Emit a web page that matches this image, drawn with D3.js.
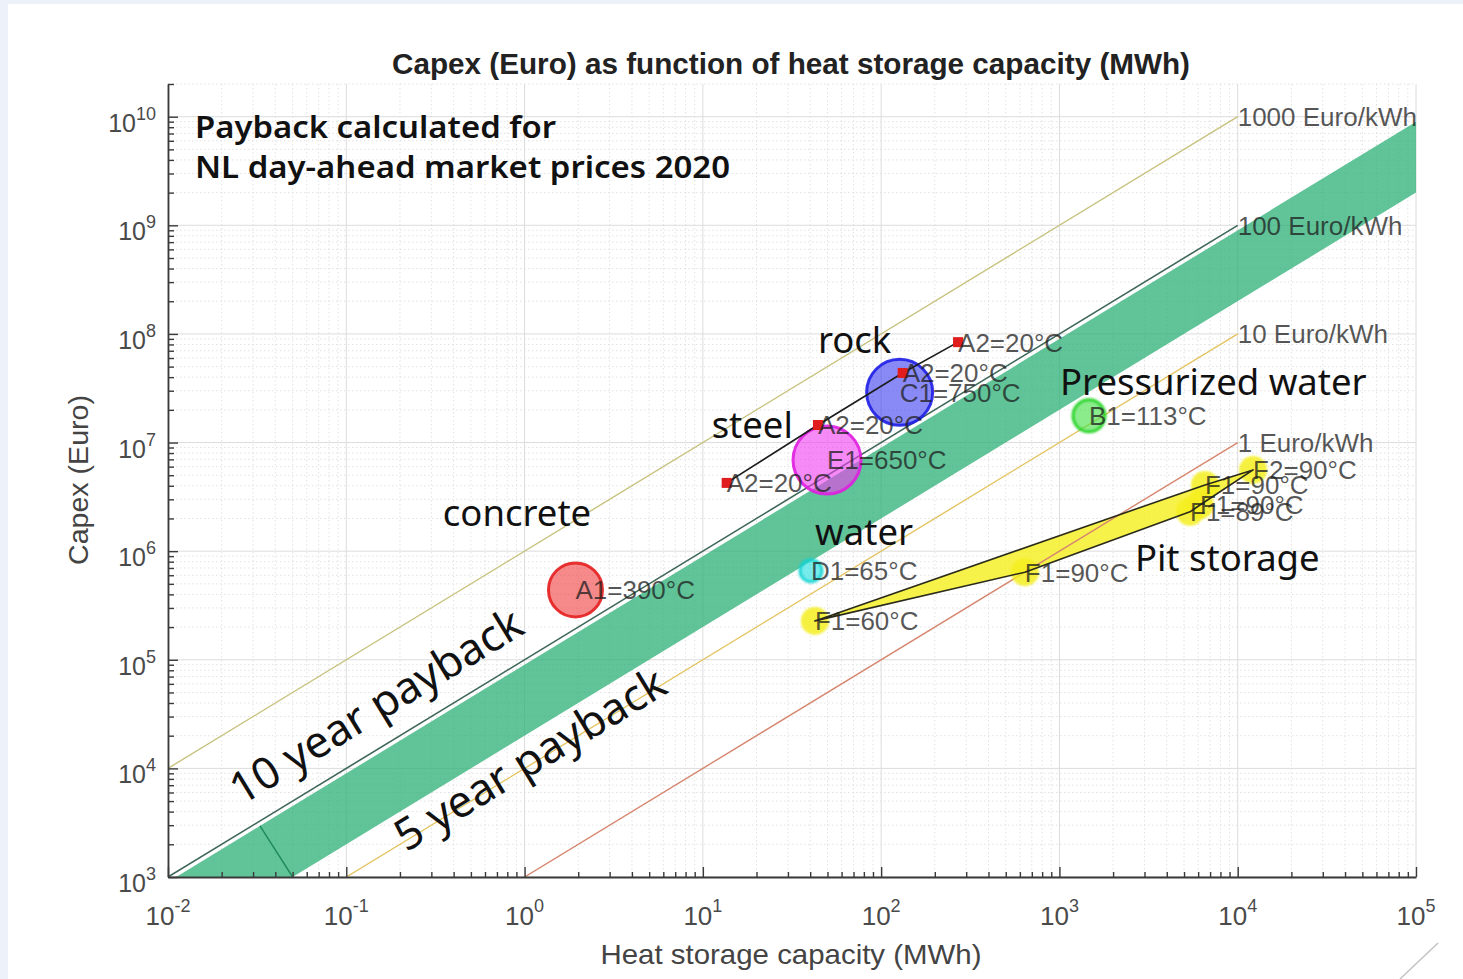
<!DOCTYPE html>
<html>
<head>
<meta charset="utf-8">
<script src="https://cdn.jsdelivr.net/npm/d3@7"></script>
<style>
  body { margin: 0; background: #edf1fa; }
  svg { display: block; }
</style>
</head>
<body>
<svg id="chart" width="1463" height="979"></svg>
<script>
// ---- axis decades -------------------------------------------------------
const xTickExps = [-2, -1, 0, 1, 2, 3, 4, 5];      // heat storage capacity, MWh
const yTickExps = [3, 4, 5, 6, 7, 8, 9, 10];       // capex, Euro

// ---- reference cost lines (Euro per kWh of capacity) ----------------------
const priceLevels = [1000, 100, 10, 1];
const priceLabels = ["1000 Euro/kWh", "100 Euro/kWh", "10 Euro/kWh", "1 Euro/kWh"];
const priceLineEnd = 1e4;                          // MWh where the lines stop

// ---- payback band (Euro per kWh) -----------------------------------------
const paybackUpper = 90;    // 10 year payback
const paybackLower = 20;    // 5 year payback
const bandSeamCapacity = 0.0328;

// ---- storage technologies -------------------------------------------------
const techKeys = ["A1", "C1", "E1", "B1", "D1"];
const techLabels = ["A1=390°C", "C1=750°C", "E1=650°C", "B1=113°C", "D1=65°C"];
const techCapacity = [1.93, 127, 49.7, 1465, 40.4];
const techCapex = [4.4e5, 2.9e7, 6.9e6, 1.76e7, 6.6e5];

// ---- ambient (20°C) reference points ---------------------------------------
const ambLabels = ["A2=20°C", "A2=20°C", "A2=20°C", "A2=20°C"];
const ambCapacity = [13.6, 44.2, 132, 270];
const ambCapex = [4.25e6, 1.45e7, 4.37e7, 8.4e7];

// ---- pit storage, listed in outline order ---------------------------------
const pitLabels = ["F1=60°C", "F1=90°C", "F1=89°C", "F1=90°C", "F2=90°C", "F1=90°C"];
const pitCapacity = [42.5, 640, 5400, 6140, 12200, 6550];
const pitCapex = [2.28e5, 6.4e5, 2.3e6, 2.66e6, 5.6e6, 4.07e6];

// ---- annotations -----------------------------------------------------------
const noteTexts = ["rock", "steel", "concrete", "water", "Pressurized water", "Pit storage"];
const noteCapacity = [44.2, 11.2, 0.348, 42.6, 1007, 2650];
const noteCapex = [6.68e7, 1.1e7, 1.71e6, 1.14e6, 2.74e7, 6.58e5];

const headerLines = ["Payback calculated for", "NL day-ahead market prices 2020"];
const headerCapacity = 0.01417;
const headerCapex = [6.38e9, 2.73e9];

const paybackTexts = ["10 year payback", "5 year payback"];
const paybackCapacity = [0.1467, 1.072];
const paybackCapex = [3.75e4, 1.22e4];

// ---- styling ----------------------------------------------------------------
const techStyle = {
  A1: { fill: "#f03c3c", stroke: "#e41e1e", r: 27, soft: false },
  C1: { fill: "#3c3cf0", stroke: "#1e1ee6", r: 33, soft: false },
  E1: { fill: "#f03cf0", stroke: "#e01ee0", r: 34, soft: false },
  B1: { fill: "#3ce03c", stroke: "#18d018", r: 16, soft: true },
  D1: { fill: "#22e0e0", stroke: "#12d2d2", r: 11, soft: true }
};
const priceColors = ["#c8c27e", "#3f6759", "#e4c463", "#d6866f"];
const headerWidths = [361, 535];
const labelFont = "'Liberation Sans', Arial, sans-serif";
const noteFont = "'Noto Sans', 'Open Sans', sans-serif";

// ---- layout -----------------------------------------------------------------
const plot = { left: 168, right: 1416, top: 84, bottom: 877 };

const x = d3.scaleLog().domain([1e-2, 1e5]).range([plot.left, plot.right]);
const y = d3.scaleLog().domain([1e3, 2e10]).range([plot.bottom, plot.top]);

const svg = d3.select("#chart");

svg.append("rect").attr("x", 8).attr("y", 4).attr("width", 1463 - 8).attr("height", 979 - 4)
  .attr("fill", "#ffffff");

const defs = svg.append("defs");
defs.append("filter").attr("id", "soft").attr("x", "-30%").attr("y", "-30%")
  .attr("width", "160%").attr("height", "160%")
  .append("feGaussianBlur").attr("stdDeviation", 1.3);
defs.append("clipPath").attr("id", "plotClip").append("rect")
  .attr("x", plot.left).attr("y", plot.top)
  .attr("width", plot.right - plot.left).attr("height", plot.bottom - plot.top);

// ---- grid -------------------------------------------------------------------
const xMajor = xTickExps.map(e => Math.pow(10, e));
const yMajor = yTickExps.map(e => Math.pow(10, e));
const xMinor = [];
xTickExps.slice(0, -1).forEach(e => { for (let m = 2; m <= 9; m++) xMinor.push(m * Math.pow(10, e)); });
const yMinor = [];
yTickExps.forEach(e => { for (let m = 2; m <= 9; m++) { const v = m * Math.pow(10, e); if (v <= 2e10) yMinor.push(v); } });

const grid = svg.append("g");
grid.selectAll("line.xmin").data(xMinor).join("line")
  .attr("x1", d => x(d)).attr("x2", d => x(d)).attr("y1", plot.top).attr("y2", plot.bottom)
  .attr("stroke", "#e2e2e2").attr("stroke-dasharray", "1.5,2.5");
grid.selectAll("line.ymin").data(yMinor).join("line")
  .attr("y1", d => y(d)).attr("y2", d => y(d)).attr("x1", plot.left).attr("x2", plot.right)
  .attr("stroke", "#e2e2e2").attr("stroke-dasharray", "1.5,2.5");
grid.selectAll("line.xmaj").data(xMajor).join("line")
  .attr("x1", d => x(d)).attr("x2", d => x(d)).attr("y1", plot.top).attr("y2", plot.bottom)
  .attr("stroke", "#dcdcdc");
grid.selectAll("line.ymaj").data(yMajor).join("line")
  .attr("y1", d => y(d)).attr("y2", d => y(d)).attr("x1", plot.left).attr("x2", plot.right)
  .attr("stroke", "#dcdcdc");

const line = d3.line().x(d => x(d[0])).y(d => y(d[1]));
const plotG = svg.append("g").attr("clip-path", "url(#plotClip)");

// ---- pit storage fill ---------------------------------------------------------
const pitPts = pitCapacity.map((c, i) => [c, pitCapex[i]]);
plotG.append("path").attr("d", line(pitPts) + "Z")
  .attr("fill", "#f6f02a").attr("fill-opacity", 0.85);

// ---- cost lines -----------------------------------------------------------------
priceLevels.forEach((p, i) => {
  const start = Math.max(1e-2, 1 / p);
  plotG.append("path")
    .attr("d", line([[start, p * 1000 * start], [priceLineEnd, p * 1000 * priceLineEnd]]))
    .attr("fill", "none").attr("stroke", priceColors[i])
    .attr("stroke-width", i === 1 ? 1.6 : 1.4);
});

// ---- payback band -------------------------------------------------------------------
const bandPts = [
  [1 / paybackUpper, 1e3],
  [1e5, paybackUpper * 1000 * 1e5],
  [1e5, paybackLower * 1000 * 1e5],
  [1 / paybackLower, 1e3]
];
plotG.append("path").attr("d", line(bandPts) + "Z")
  .attr("fill", "#2aae74").attr("fill-opacity", 0.74);
plotG.append("path")
  .attr("d", line([[bandSeamCapacity, paybackUpper * 1000 * bandSeamCapacity], [1 / paybackLower, 1e3]]))
  .attr("stroke", "#1d8a58").attr("stroke-width", 1.4).attr("fill", "none");

// ---- technology bubbles ------------------------------------------------------------
techKeys.forEach((k, i) => {
  const s = techStyle[k];
  plotG.append("circle")
    .attr("cx", x(techCapacity[i])).attr("cy", y(techCapex[i])).attr("r", s.r)
    .attr("fill", s.fill).attr("fill-opacity", 0.6)
    .attr("stroke", s.stroke).attr("stroke-width", 3).attr("stroke-opacity", 0.9)
    .attr("filter", s.soft ? "url(#soft)" : null);
});

// pit storage markers
pitPts.forEach(d => {
  plotG.append("circle").attr("cx", x(d[0])).attr("cy", y(d[1])).attr("r", 14)
    .attr("fill", "#f4ee1e").attr("fill-opacity", 0.85).attr("filter", "url(#soft)");
});

// pit storage outline
plotG.append("path").attr("d", line(pitPts) + "Z")
  .attr("fill", "none").attr("stroke", "#2a2a1a").attr("stroke-width", 1.6)
  .attr("stroke-linejoin", "round");

// ---- ambient reference line with square markers -----------------------------------------
const ambPts = ambCapacity.map((c, i) => [c, ambCapex[i]]);
plotG.append("path").attr("d", line(ambPts)).attr("fill", "none")
  .attr("stroke", "#1c1c1c").attr("stroke-width", 1.6);
plotG.selectAll("rect.amb").data(ambPts).join("rect")
  .attr("x", d => x(d[0]) - 5).attr("y", d => y(d[1]) - 5)
  .attr("width", 10).attr("height", 10).attr("fill", "#e01c1c");

// ---- point labels (left aligned at the point) ----------------------------------------------
const labelG = svg.append("g").attr("font-family", labelFont).attr("font-size", 26)
  .attr("fill", "#1e1e1e").attr("fill-opacity", 0.76);
function pointLabel(txt, cx, cy) {
  labelG.append("text").attr("x", x(cx)).attr("y", y(cy)).attr("dy", "0.36em").text(txt);
}
techLabels.forEach((t, i) => pointLabel(t, techCapacity[i], techCapex[i]));
ambLabels.forEach((t, i) => pointLabel(t, ambCapacity[i], ambCapex[i]));
pitLabels.forEach((t, i) => pointLabel(t, pitCapacity[i], pitCapex[i]));
priceLevels.forEach((p, i) => pointLabel(priceLabels[i], priceLineEnd, p * 1000 * priceLineEnd));

// ---- axes -----------------------------------------------------------------------------
const axisColor = "#3a3a3a";
function styleAxis(g, keepDomain) {
  g.selectAll("text").remove();
  g.selectAll("line").attr("stroke", axisColor).attr("stroke-width", 1.4);
  if (keepDomain) g.select(".domain").attr("stroke", axisColor).attr("stroke-width", 1.8);
  else g.select(".domain").remove();
}
const gxMinor = svg.append("g").attr("transform", `translate(0,${plot.bottom})`)
  .call(d3.axisBottom(x).tickValues(xMinor).tickSizeInner(-5).tickSizeOuter(0).tickFormat(""));
styleAxis(gxMinor, false);
const gx = svg.append("g").attr("transform", `translate(0,${plot.bottom})`)
  .call(d3.axisBottom(x).tickValues(xMajor).tickSizeInner(-10).tickSizeOuter(0).tickFormat(""));
styleAxis(gx, true);

const gyMinor = svg.append("g").attr("transform", `translate(${plot.left},0)`)
  .call(d3.axisLeft(y).tickValues(yMinor).tickSizeInner(-6).tickSizeOuter(0).tickFormat(""));
styleAxis(gyMinor, false);
const gy = svg.append("g").attr("transform", `translate(${plot.left},0)`)
  .call(d3.axisLeft(y).tickValues(yMajor).tickSizeInner(-10).tickSizeOuter(0).tickFormat(""));
styleAxis(gy, true);

// tick labels as powers of ten
const tickG = svg.append("g").attr("font-family", labelFont).attr("fill", "#4a4a4a");
xTickExps.forEach(e => {
  const t = tickG.append("text").attr("x", x(Math.pow(10, e))).attr("y", 925)
    .attr("text-anchor", "middle").attr("font-size", 26);
  t.append("tspan").text("10");
  t.append("tspan").attr("dy", -13).attr("font-size", 18).text(e);
});
yTickExps.forEach(e => {
  const t = tickG.append("text").attr("x", 156).attr("y", y(Math.pow(10, e)) + 15)
    .attr("text-anchor", "end").attr("font-size", 25);
  t.append("tspan").text("10");
  t.append("tspan").attr("dy", -12).attr("font-size", 18).text(e);
});

// axis titles and chart title
svg.append("text").attr("x", 791).attr("y", 964).attr("text-anchor", "middle")
  .attr("font-family", labelFont).attr("font-size", 28).attr("fill", "#444")
  .attr("textLength", 381).attr("lengthAdjust", "spacingAndGlyphs")
  .text("Heat storage capacity (MWh)");
svg.append("text").attr("transform", "translate(88,480) rotate(-90)").attr("text-anchor", "middle")
  .attr("font-family", labelFont).attr("font-size", 28).attr("fill", "#444")
  .attr("textLength", 170).attr("lengthAdjust", "spacingAndGlyphs")
  .text("Capex (Euro)");
svg.append("text").attr("x", 791).attr("y", 74).attr("text-anchor", "middle")
  .attr("font-family", labelFont).attr("font-size", 29).attr("font-weight", "bold").attr("fill", "#222")
  .attr("textLength", 798).attr("lengthAdjust", "spacingAndGlyphs")
  .text("Capex (Euro) as function of  heat storage capacity (MWh)");

// ---- annotations ------------------------------------------------------------------
const noteG = svg.append("g").attr("font-family", noteFont).attr("fill", "#111");
headerLines.forEach((t, i) => {
  noteG.append("text").attr("x", x(headerCapacity)).attr("y", y(headerCapex[i]))
    .attr("font-size", 31).attr("font-weight", 600)
    .attr("textLength", headerWidths[i]).attr("lengthAdjust", "spacingAndGlyphs").text(t);
});
noteTexts.forEach((t, i) => {
  noteG.append("text").attr("x", x(noteCapacity[i])).attr("y", y(noteCapex[i]))
    .attr("font-size", 36.5).text(t);
});
const bandAngle = -Math.atan((y(1e3) - y(1e4)) / (x(1) - x(0.1))) * 180 / Math.PI;
paybackTexts.forEach((t, i) => {
  noteG.append("text")
    .attr("transform", `translate(${x(paybackCapacity[i])},${y(paybackCapex[i])}) rotate(${bandAngle})`)
    .attr("text-anchor", "middle").attr("dy", "0.35em").attr("font-size", 44).text(t);
});

// window corner mark
svg.append("line").attr("x1", 1400).attr("y1", 979).attr("x2", 1438).attr("y2", 943)
  .attr("stroke", "#c4c4c4").attr("stroke-width", 1.5);
</script>
</body>
</html>
